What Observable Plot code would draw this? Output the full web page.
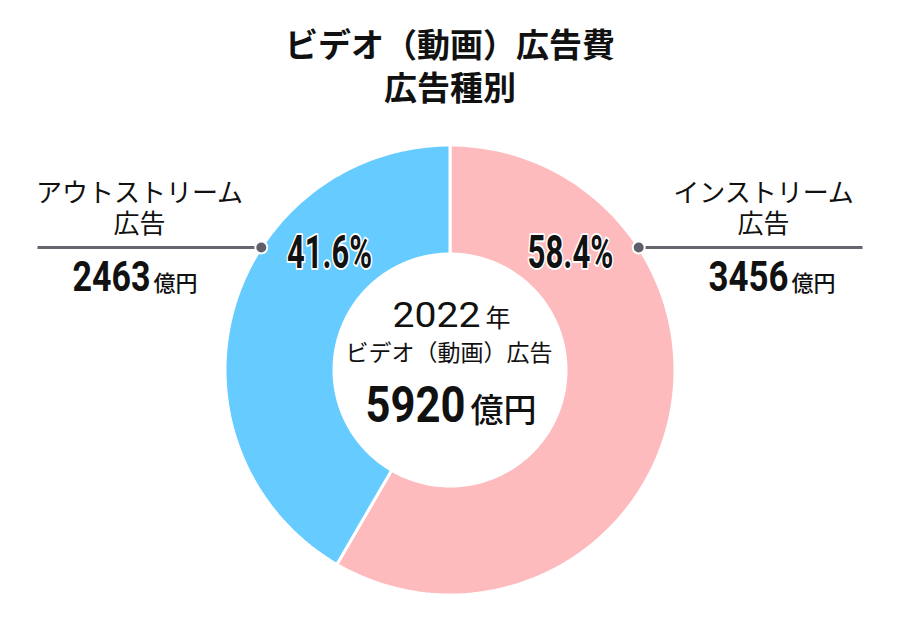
<!DOCTYPE html>
<html><head><meta charset="utf-8">
<script src="https://cdn.jsdelivr.net/npm/d3@7"></script>
<script src="https://cdn.jsdelivr.net/npm/@observablehq/plot@0.6"></script>
<style>
body{margin:0;background:#fff;font-family:"Noto Sans CJK JP",sans-serif;}
#title{width:900px;height:115px;box-sizing:border-box;padding-top:22px;text-align:center;font-weight:700;font-size:33px;line-height:43px;color:#111;}
#chart svg{display:block;}
</style></head><body>
<div id="title"><div>ビデオ（動画）広告費</div><div>広告種別</div></div>
<div id="chart"></div>
<script>
// ---- data ----
const categories = ["インストリーム広告", "アウトストリーム広告"];
const nameLine1 = ["インストリーム", "アウトストリーム"];
const nameLine2 = ["広告", "広告"];
const values = [3456, 2463];
const valueLabels = ["3456", "2463"];
const shareLabels = ["58.4%", "41.6%"];
const unit = "億円";
const centerYear = "2022";
const centerYearUnit = "年";
const centerName = "ビデオ（動画）広告";
const centerTotal = "5920";
const colors = ["#fdbbbd", "#66cbff"];

// ---- layout (pixels) ----
const W = 900, H = 528, CX = 449.5, CY = 254.5, R = 225, R_IN = 116;
const u = px => px / R;          // pixels -> data units (outer radius = 1)
const numFont = 'Roboto,"DejaVu Sans",sans-serif';
const jpFont = '"Noto Sans CJK JP",sans-serif';

const pie = d3.pie().sort(null).value(d => d.value);
const rows = categories.map((c, i) => ({category: c, value: values[i], i, side: i === 0 ? 1 : -1}));
const arcs = pie(rows);

const poly = [];
for (const a of arcs) {
  const n = Math.max(8, Math.ceil((a.endAngle - a.startAngle) / (Math.PI * 2) * 240));
  const angs = d3.range(n + 1).map(k => a.startAngle + (a.endAngle - a.startAngle) * k / n);
  for (const t of angs) poly.push({category: a.data.category, x: Math.sin(t), y: Math.cos(t)});
  for (const t of angs.slice().reverse()) poly.push({category: a.data.category, x: u(R_IN) * Math.sin(t), y: u(R_IN) * Math.cos(t)});
}

const deg = Math.PI / 180;
const shareAng = 46 * deg, shareRad = u(167.5);
const dotAng = 57 * deg;
const lineEnd = u(412.5);
const shareText = rows.map(r => ({label: shareLabels[r.i], x: r.side * shareRad * Math.sin(shareAng), y: shareRad * Math.cos(shareAng)}));
const dots = rows.map(r => ({x: r.side * Math.sin(dotAng), y: Math.cos(dotAng)}));
const leaders = dots.map(d => ({x1: d.x, y1: d.y, x2: Math.sign(d.x) * lineEnd, y2: d.y}));
const nameX = [u(313.5), u(-310.5)];
const name1 = rows.map(r => ({label: nameLine1[r.i], x: nameX[r.i], y: u(176.5)}));
const name2 = rows.map(r => ({label: nameLine2[r.i], x: nameX[r.i], y: u(145)}));
const valueStartX = [u(258.5), u(-377.5)];
const valNum = rows.map(r => ({label: valueLabels[r.i], x: valueStartX[r.i], y: u(92.5)}));

const chart = Plot.plot({
  width: W, height: H, margin: 0,
  x: {domain: [-u(CX), u(W - CX)], axis: null},
  y: {domain: [-u(H - CY), u(CY)], axis: null},
  color: {domain: categories, range: colors},
  marks: [
    Plot.line(poly, {x: "x", y: "y", z: "category", fill: "category", stroke: "white", strokeWidth: 3, curve: "linear-closed"}),
    Plot.link(leaders, {x1: "x1", y1: "y1", x2: "x2", y2: "y2", stroke: "#66666f", strokeWidth: 3}),
    Plot.dot(dots, {x: "x", y: "y", r: 6, fill: "#5f5f6a", stroke: "white", strokeWidth: 2}),
    Plot.text(shareText, {x: "x", y: "y", text: "label", className: "fit-share", fontFamily: numFont, fontWeight: 700, fontSize: 46, fill: "#111", stroke: "white", strokeWidth: 4}),
    Plot.text(name1, {x: "x", y: "y", text: "label", fontFamily: jpFont, fontSize: 26, fill: "#111"}),
    Plot.text(name2, {x: "x", y: "y", text: "label", fontFamily: jpFont, fontSize: 26, fill: "#111"}),
    Plot.text(valNum, {x: "x", y: "y", text: "label", className: "fit-value", textAnchor: "start", fontFamily: numFont, fontWeight: 700, fontSize: 42, fill: "#111"}),
    Plot.text([centerYear], {x: u(-57.5), y: u(54.5), text: d => d, className: "fit-year", textAnchor: "start", fontFamily: numFont, fontSize: 35, fill: "#111"}),
    Plot.text([centerName], {x: u(-1), y: u(16.5), text: d => d, fontFamily: jpFont, fontSize: 23, fill: "#111"}),
    Plot.text([centerTotal], {x: u(-84.5), y: u(-35.5), text: d => d, className: "fit-total", textAnchor: "start", fontFamily: numFont, fontWeight: 700, fontSize: 50, fill: "#111"})
  ]
});
// condense the number glyphs to the reference's narrow figure widths,
// and attach the unit as a smaller run on the same baseline
const NS = "http://www.w3.org/2000/svg";
function compose(cls, widths, unitText, unitSize, gap, unitWeight) {
  chart.querySelectorAll("g." + cls + " text").forEach((t, k) => {
    const num = t.textContent;
    t.textContent = "";
    const a = document.createElementNS(NS, "tspan");
    a.textContent = num;
    a.setAttribute("textLength", widths[k]);
    a.setAttribute("lengthAdjust", "spacingAndGlyphs");
    t.appendChild(a);
    if (unitText) {
      const b = document.createElementNS(NS, "tspan");
      b.textContent = unitText;
      b.setAttribute("dx", gap);
      b.setAttribute("font-size", unitSize);
      b.setAttribute("font-family", jpFont);
      b.setAttribute("font-weight", unitWeight);
      t.appendChild(b);
    }
  });
}
compose("fit-share", [86, 85]);
compose("fit-value", [80, 78], unit, 22, 3, 500);
compose("fit-year", [88], centerYearUnit, 25, 5, 400);
compose("fit-total", [100], unit, 33, 5, 500);
document.getElementById("chart").appendChild(chart);
</script>
</body></html>
